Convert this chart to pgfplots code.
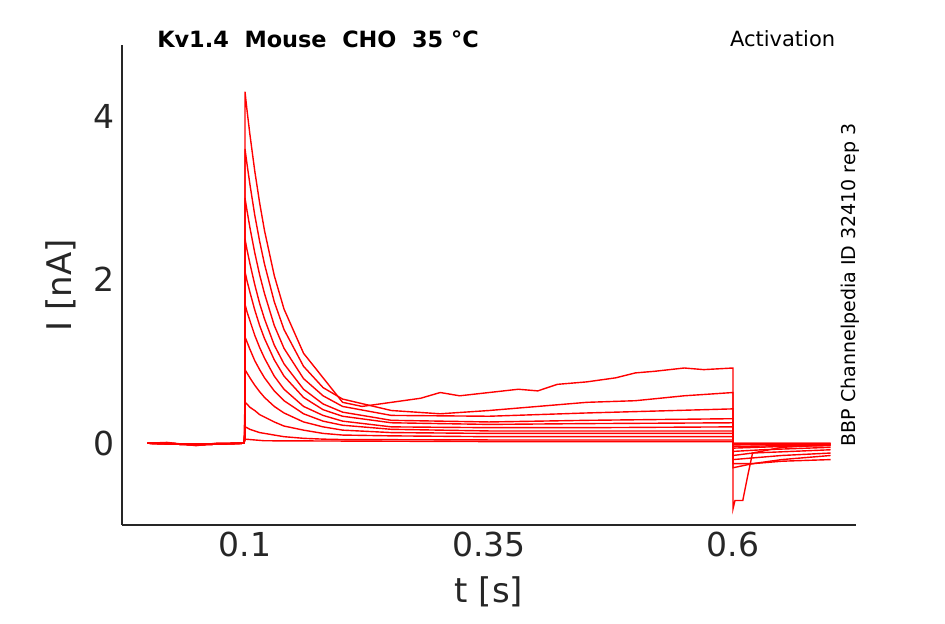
\documentclass[border=0pt]{standalone}
\usepackage{pgfplots}
\pgfplotsset{compat=1.18}
\usepackage{fontspec}
\setmainfont{DejaVu Sans}
\definecolor{tx}{HTML}{262626}
\begin{document}
\begin{tikzpicture}
\useasboundingbox (-61pt,-49.5pt) rectangle (411.5pt,262.5pt);
\begin{axis}[at={(0,0)},anchor=south west,scale only axis,width=367pt,height=240pt,
 xmin=-0.026,xmax=0.726,ymin=-1.0,ymax=4.87,
 axis x line=bottom,axis y line=left,axis line style={-,tx,line width=0.6pt},
 xtick={0.1,0.35,0.6},xticklabels={0.1,0.35,0.6},ytick={0,2,4},
 major tick length=0pt,
 tick label style={font=\fontsize{16.5}{18}\selectfont,text=tx},
 /pgf/number format/assume math mode=true,
 xlabel={t [s]},ylabel={I [nA]},
 label style={font=\fontsize{17}{20}\selectfont,text=tx},
 xlabel style={yshift=-3pt},ylabel style={yshift=2pt},
 every axis plot post/.append style={red,mark=none,solid,line width=0.7pt},
 clip=false]
\node[font=\bfseries\fontsize{11.2}{13}\selectfont] at (rel axis cs:0.267,1.0125) {Kv1.4\ \ Mouse\ \ CHO\ \ 35 °C};
\node[font=\fontsize{10.5}{12}\selectfont] at (rel axis cs:0.9,1.0125) {Activation};
\node[font=\fontsize{9.5}{11}\selectfont,rotate=90] at (rel axis cs:0.992,0.5) {BBP Channelpedia ID 32410 rep 3};
% T1
\addplot coordinates {(0,0)(0.02,0.01)(0.05,-0.03)(0.07,0)(0.099,0)(0.1,0.1)(0.1,4.3)(0.102,4.08)(0.105,3.78)(0.11,3.33)(0.115,2.94)(0.12,2.60)(0.13,2.05)(0.14,1.64)(0.16,1.10)(0.18,0.80)(0.2,0.5)(0.22,0.45)(0.25,0.5)(0.28,0.55)(0.3,0.62)(0.32,0.58)(0.35,0.62)(0.38,0.66)(0.4,0.64)(0.42,0.72)(0.45,0.75)(0.48,0.8)(0.5,0.86)(0.52,0.88)(0.55,0.92)(0.57,0.9)(0.6,0.92)(0.6,-0.8)(0.602,-0.7)(0.61,-0.7)(0.615,-0.4)(0.62,-0.12)(0.65,-0.05)(0.7,-0.02)};
% T2
\addplot coordinates {(0,0)(0.05,-0.02)(0.099,0)(0.1,0.1)(0.1,3.6)(0.102,3.42)(0.105,3.17)(0.11,2.79)(0.115,2.47)(0.12,2.19)(0.13,1.73)(0.14,1.39)(0.16,0.94)(0.18,0.68)(0.2,0.54)(0.25,0.40)(0.3,0.36)(0.35,0.4)(0.4,0.45)(0.45,0.5)(0.5,0.52)(0.55,0.58)(0.6,0.62)(0.6,-0.3)(0.62,-0.25)(0.65,-0.2)(0.7,-0.15)};
% T3
\addplot coordinates {(0,0)(0.05,-0.01)(0.099,0)(0.1,0.1)(0.1,3.0)(0.102,2.85)(0.105,2.64)(0.11,2.33)(0.115,2.06)(0.12,1.83)(0.13,1.44)(0.14,1.16)(0.16,0.79)(0.18,0.58)(0.2,0.45)(0.25,0.34)(0.35,0.33)(0.45,0.37)(0.6,0.42)(0.6,-0.25)(0.62,-0.25)(0.65,-0.22)(0.7,-0.2)};
% T4
\addplot coordinates {(0,0)(0.05,-0.02)(0.099,0)(0.1,0.1)(0.1,2.5)(0.102,2.37)(0.105,2.2)(0.11,1.94)(0.115,1.71)(0.12,1.52)(0.13,1.2)(0.14,0.97)(0.16,0.66)(0.18,0.48)(0.2,0.38)(0.25,0.28)(0.35,0.26)(0.45,0.28)(0.6,0.3)(0.6,-0.2)(0.62,-0.18)(0.65,-0.15)(0.7,-0.12)};
% T5
\addplot coordinates {(0,0)(0.05,-0.01)(0.099,0)(0.1,0.1)(0.1,2.1)(0.102,1.99)(0.105,1.85)(0.11,1.63)(0.115,1.44)(0.12,1.28)(0.13,1.02)(0.14,0.82)(0.16,0.56)(0.18,0.41)(0.2,0.33)(0.25,0.25)(0.35,0.23)(0.45,0.24)(0.6,0.25)(0.6,-0.15)(0.62,-0.12)(0.7,-0.08)};
% T6
\addplot coordinates {(0,0)(0.05,-0.02)(0.099,0)(0.1,0.08)(0.1,1.7)(0.102,1.61)(0.105,1.5)(0.11,1.32)(0.115,1.17)(0.12,1.04)(0.13,0.82)(0.14,0.66)(0.16,0.45)(0.18,0.34)(0.2,0.27)(0.25,0.2)(0.35,0.19)(0.45,0.19)(0.6,0.2)(0.6,-0.1)(0.63,-0.08)(0.7,-0.05)};
% T7
\addplot coordinates {(0,0)(0.05,-0.01)(0.099,0)(0.1,0.06)(0.1,1.3)(0.102,1.24)(0.105,1.15)(0.11,1.01)(0.115,0.9)(0.12,0.8)(0.13,0.64)(0.14,0.52)(0.16,0.36)(0.18,0.27)(0.2,0.22)(0.25,0.17)(0.35,0.15)(0.45,0.15)(0.6,0.15)(0.6,-0.06)(0.65,-0.04)(0.7,-0.03)};
% T8
\addplot coordinates {(0,0)(0.05,-0.02)(0.099,0)(0.1,0.05)(0.1,0.9)(0.102,0.86)(0.105,0.8)(0.11,0.71)(0.115,0.63)(0.12,0.56)(0.13,0.45)(0.14,0.37)(0.16,0.26)(0.18,0.2)(0.2,0.16)(0.25,0.13)(0.35,0.12)(0.45,0.12)(0.6,0.12)(0.6,-0.04)(0.7,-0.02)};
% T9
\addplot coordinates {(0,0)(0.05,-0.01)(0.099,0)(0.1,0.5)(0.102,0.48)(0.105,0.44)(0.11,0.4)(0.115,0.35)(0.12,0.32)(0.13,0.26)(0.14,0.21)(0.16,0.16)(0.18,0.12)(0.2,0.1)(0.25,0.09)(0.35,0.08)(0.6,0.08)(0.6,-0.02)(0.7,-0.01)};
% T10
\addplot coordinates {(0,0)(0.05,-0.02)(0.099,0)(0.1,0.2)(0.102,0.19)(0.105,0.17)(0.11,0.15)(0.115,0.13)(0.12,0.12)(0.13,0.1)(0.14,0.08)(0.16,0.06)(0.18,0.05)(0.2,0.045)(0.35,0.04)(0.6,0.04)(0.6,0)(0.7,0)};
% T11
\addplot coordinates {(0,0)(0.05,-0.01)(0.099,0)(0.1,0.05)(0.12,0.03)(0.35,0.02)(0.6,0.02)(0.6,0)(0.7,0)};
\end{axis}
\end{tikzpicture}
\end{document}
